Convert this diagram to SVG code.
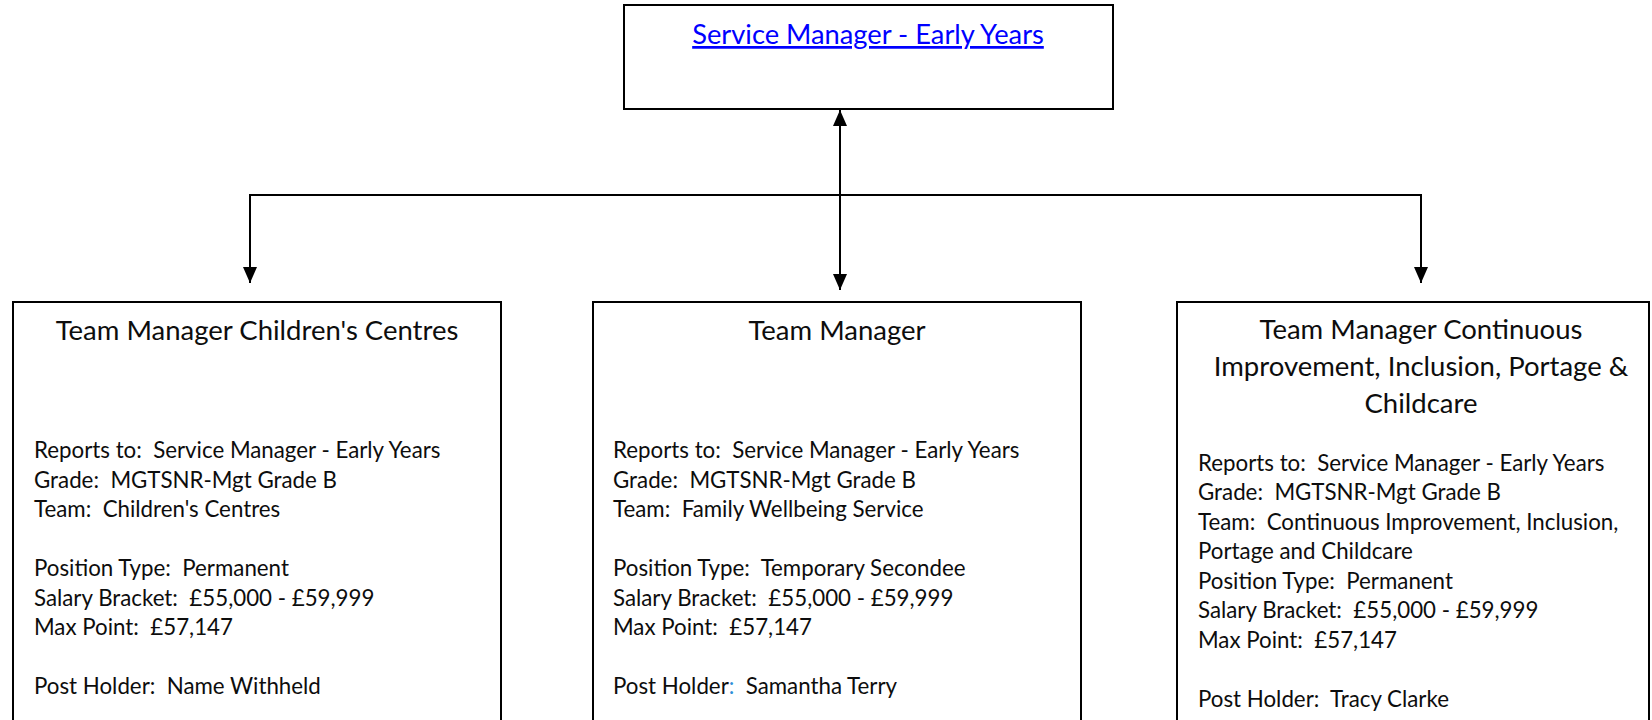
<svg xmlns="http://www.w3.org/2000/svg" width="1652" height="720" viewBox="0 0 1652 720">
<style>
  .box { fill: #ffffff; stroke: #000000; stroke-width: 2; }
  .title { font-family: Lato, "Liberation Sans", sans-serif; font-size: 27.5px; fill: #0d0d0d; text-anchor: middle; }
  .body { font-family: Lato, "Liberation Sans", sans-serif; font-size: 22.3px; fill: #0d0d0d; white-space: pre; }
  .link { font-family: Lato, "Liberation Sans", sans-serif; font-size: 27.3px; fill: #0000ff; text-anchor: middle; text-decoration: underline; }
  .conn { fill: none; stroke: #000000; stroke-width: 2; }
  .colon { fill: #2e8fd8; }
</style>
<defs>
  <marker id="arrow" markerUnits="userSpaceOnUse" markerWidth="16" markerHeight="18" viewBox="0 0 16 14" refX="16" refY="7" orient="auto-start-reverse">
    <path d="M0,0 L16,7 L0,14 z" fill="#000000"/>
  </marker>
</defs>
<rect width="1652" height="720" fill="#ffffff"/>

<g id="connectors">
  <line class="conn" x1="840" y1="110" x2="840" y2="290" marker-start="url(#arrow)" marker-end="url(#arrow)"/>
  <polyline class="conn" points="250,283 250,195 1421,195 1421,283" marker-start="url(#arrow)" marker-end="url(#arrow)"/>
</g>

<g id="service-manager">
  <rect class="box" x="624" y="5" width="489" height="104"/>
  <text class="link" x="868" y="44">Service Manager - Early Years</text>
</g>

<g id="tm-childrens-centres">
  <rect class="box" x="13" y="302" width="488" height="440"/>
  <text class="title" x="257" y="340">Team Manager Children's Centres</text>
  <text class="body" x="34" y="458">Reports to:  Service Manager - Early Years</text>
  <text class="body" x="34" y="488">Grade:  MGTSNR-Mgt Grade B</text>
  <text class="body" x="34" y="517">Team:  Children's Centres</text>
  <text class="body" x="34" y="576">Position Type:  Permanent</text>
  <text class="body" x="34" y="606">Salary Bracket:  £55,000 - £59,999</text>
  <text class="body" x="34" y="635">Max Point:  £57,147</text>
  <text class="body" x="34" y="694">Post Holder:  Name Withheld</text>
</g>

<g id="tm-family-wellbeing">
  <rect class="box" x="593" y="302" width="488" height="440"/>
  <text class="title" x="837" y="340">Team Manager</text>
  <text class="body" x="613" y="458">Reports to:  Service Manager - Early Years</text>
  <text class="body" x="613" y="488">Grade:  MGTSNR-Mgt Grade B</text>
  <text class="body" x="613" y="517">Team:  Family Wellbeing Service</text>
  <text class="body" x="613" y="576">Position Type:  Temporary Secondee</text>
  <text class="body" x="613" y="606">Salary Bracket:  £55,000 - £59,999</text>
  <text class="body" x="613" y="635">Max Point:  £57,147</text>
  <text class="body" x="613" y="694">Post Holder<tspan class="colon">:</tspan>  Samantha Terry</text>
</g>

<g id="tm-continuous-improvement">
  <rect class="box" x="1177" y="302" width="472" height="440"/>
  <text class="title" x="1421" y="339">Team Manager Continuous</text>
  <text class="title" x="1421" y="376">Improvement, Inclusion, Portage &amp;</text>
  <text class="title" x="1421" y="413">Childcare</text>
  <text class="body" x="1198" y="471">Reports to:  Service Manager - Early Years</text>
  <text class="body" x="1198" y="500">Grade:  MGTSNR-Mgt Grade B</text>
  <text class="body" x="1198" y="530">Team:  Continuous Improvement, Inclusion,</text>
  <text class="body" x="1198" y="559">Portage and Childcare</text>
  <text class="body" x="1198" y="589">Position Type:  Permanent</text>
  <text class="body" x="1198" y="618">Salary Bracket:  £55,000 - £59,999</text>
  <text class="body" x="1198" y="648">Max Point:  £57,147</text>
  <text class="body" x="1198" y="707">Post Holder:  Tracy Clarke</text>
</g>
</svg>
